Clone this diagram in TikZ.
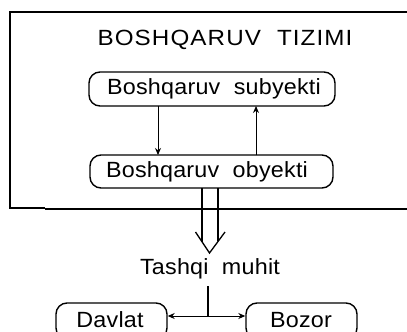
\documentclass[tikz,border=0pt]{standalone}
\usepackage{fontspec}
\setmainfont{Liberation Sans}[FakeStretch=1.06, LetterSpace=1]
\newfontfamily\titlefont{Liberation Sans}[FakeStretch=1.1, LetterSpace=5]
\usetikzlibrary{arrows.meta}
\tikzset{
  rbox/.style={draw, line width=1.4pt, rounded corners=11pt, inner sep=0pt, anchor=center},
  lbl/.style={font=\fontsize{22}{24}\selectfont, inner sep=0pt},
  conn/.style={line width=1pt, -{Stealth[length=7pt,width=6pt]}},
}
\begin{document}
\begin{tikzpicture}[x=1pt,y=-1pt]
\path[use as bounding box, clip] (0,0) rectangle (407,332);
\fill[white] (0,0) rectangle (407,332);
% frame
\draw[line width=1.6pt] (407,12) -- (10,12) -- (10,208) -- (45,208);
\draw[line width=2.2pt] (45,209) -- (407,209);
% title
\node[lbl, font=\titlefont\fontsize{22}{24}\selectfont] (title) at (225,39.5) {BOSHQARUV\hspace{16pt}TIZIMI};
% boxes
\node[rbox, minimum width=246pt, minimum height=34pt] (sub) at (212,89) {};
\node[lbl] (subt) at (214,89) {Boshqaruv\ \ subyekti};
\node[rbox, minimum width=243pt, minimum height=33pt] (obj) at (211.5,171.5) {};
\node[lbl] (objt) at (207,171.5) {Boshqaruv\ \ obyekti};
% arrows between
\coordinate (d1) at (158,106);
\coordinate (d2) at (158,155);
\coordinate (u1) at (256,155);
\coordinate (u2) at (256,106);
\draw[conn] (d1) -- (d2);
\draw[conn] (u1) -- (u2);
% hollow double arrow
\coordinate (hl) at (202,188);
\coordinate (hr) at (218,188);
\coordinate (tip) at (209.5,253);
\draw[line width=1.3pt] (hl) -- (202,242);
\draw[line width=1.3pt] (hr) -- (218,241);
\draw[line width=1.3pt, line join=miter] (195.5,232) -- (tip) -- (225,232);
% external
\node[lbl] (tm) at (210,269) {Tashqi\ \ muhit};
\node[rbox, minimum width=111pt, minimum height=36pt] (dav) at (111.5,321) {};
\node[lbl] (davt) at (110,320) {Davlat};
\node[rbox, minimum width=111pt, minimum height=36pt] (boz) at (301.5,321) {};
\node[lbl] (bozt) at (301,320) {Bozor};
\coordinate (j0) at (208,286);
\coordinate (j) at (208,316);
\draw[line width=1.1pt] (j0) -- (j);
\draw[conn] (j) -- (dav.east |- j);
\draw[conn] (j) -- (boz.west |- j);
\end{tikzpicture}
\end{document}
